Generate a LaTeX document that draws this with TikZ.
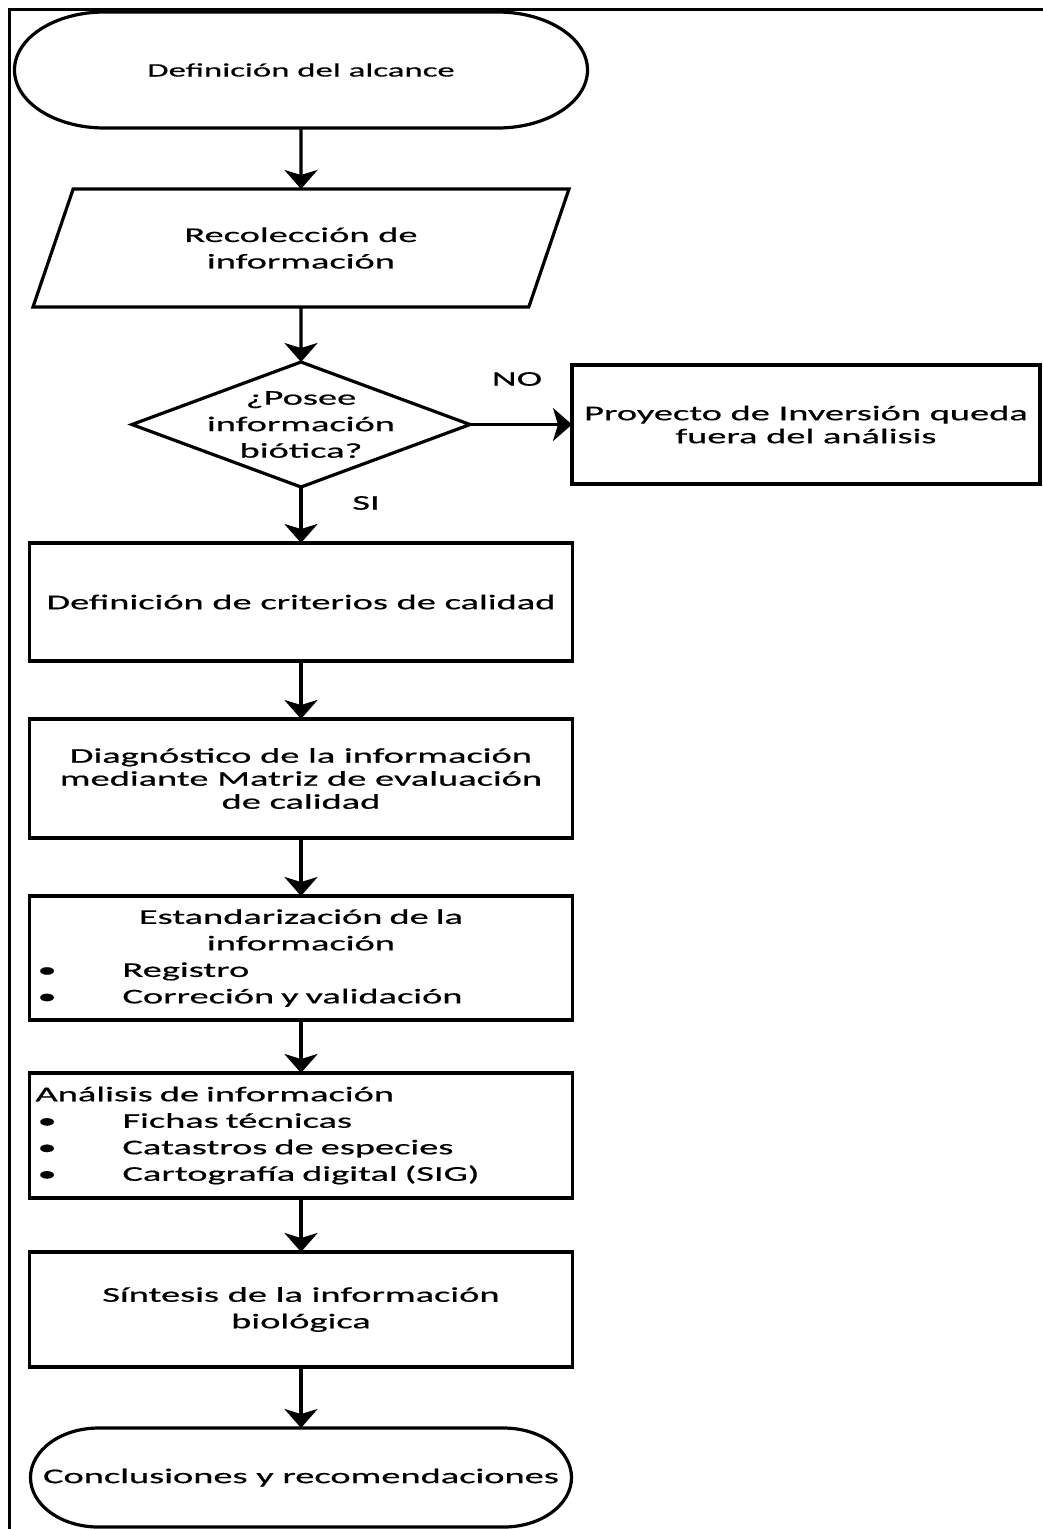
\documentclass[tikz,border=0pt]{standalone}
\usepackage{fontspec}
\setmainfont{Carlito}[FakeStretch=1.83, FakeBold=0.6]
\usetikzlibrary{arrows.meta, positioning, shapes.geometric}

% outline of a terminal node with flat ends
\newcommand{\terminalline}[3]{%
  \draw[line] ([xshift=#2]#1.north west) -- ([xshift=-#2]#1.north east)
    arc[start angle=90, end angle=-90, x radius=#2, y radius=#3]
    -- ([xshift=#2]#1.south west)
    arc[start angle=270, end angle=90, x radius=#2, y radius=#3] -- cycle;}
% one line in a box: bullet item, or plain text set to the left
\newcommand{\bitem}[1]{\makebox[531pt][l]{\hspace{2pt}\makebox[85pt][l]{•}#1}}
\newcommand{\lline}[1]{\makebox[531pt][l]{#1}}

\begin{document}
\begin{tikzpicture}[
    x=1pt, y=-1pt,
    every node/.style = {font=\fontsize{21}{26.5}\selectfont},
    line/.style     = {line width=3.2pt},
    box/.style      = {rectangle, draw, line width=3.2pt, align=center,
                       inner sep=6pt, outer sep=0pt},
    proc/.style     = {box, minimum width=543pt},
    terminal/.style = {rectangle, align=center, inner sep=0pt, outer sep=0pt},
    io/.style       = {trapezium, trapezium left angle=50, trapezium right angle=130,
                       trapezium stretches body, draw, line width=3.2pt, align=center,
                       minimum width=536pt, minimum height=118pt, outer sep=0pt},
    decision/.style = {diamond, draw, line width=3.2pt, minimum width=338pt,
                       minimum height=125pt, inner sep=0pt, outer sep=0pt},
    lbl/.style      = {inner sep=0pt, align=center},
    arr/.style      = {-{Stealth[length=19pt, width=33pt, inset=5pt]}, line width=3.2pt}
  ]
  \useasboundingbox (0,0) rectangle (1043,1529);

  % frame
  \draw[line width=3pt] (9,1529) -- (9,9) -- (1043,9);

  % nodes
  \node[terminal, minimum width=573pt, minimum height=116pt,
        font=\fontsize{19}{24}\selectfont] (start) at (301,70) {Definición del alcance};
  \terminalline{start}{90pt}{58pt}

  \node[io] (recol) [below=61pt of start] {Recolección de\\información};

  \node[decision] (question) [below=55pt of recol] {};
  \node[lbl] (qtext) at (question) {¿Posee\\información\\biótica?};

  \node[box, minimum width=468pt, minimum height=119pt,
        font=\fontsize{21}{23}\selectfont] (out) [right=102pt of question]
        {Proyecto de Inversión queda\\fuera del análisis};

  \node[lbl] (no) at (517,379) {NO};
  \node[lbl] (si) at (366,503) {SI};

  \node[proc, minimum height=118pt] (crit) [below=56pt of question]
        {Definición de criterios de calidad};
  \node[proc, minimum height=119pt, font=\fontsize{21}{23}\selectfont] (diag)
        [below=58pt of crit]
        {Diagnóstico de la información\\mediante Matriz de evaluación\\de calidad};
  \node[proc, minimum height=124pt, text width=531pt] (estand) [below=58pt of diag]
        {Estandarización de la\\información\\\bitem{Registro}\\\bitem{Correción y validación}};
  \node[proc, minimum height=125pt, text width=531pt] (anal) [below=53pt of estand]
        {\lline{Análisis de información}\\\bitem{Fichas técnicas}\\
         \bitem{Catastros de especies}\\\bitem{Cartografía digital (SIG)}};
  \node[proc, minimum height=115pt] (sint) [below=54pt of anal]
        {Síntesis de la información\\biológica};

  \node[terminal, minimum width=541pt, minimum height=99pt] (concl) [below=61pt of sint]
        {Conclusiones y recomendaciones};
  \terminalline{concl}{68pt}{49.5pt}

  % edges
  \draw[arr] (start) -- (recol);
  \draw[arr] (recol) -- (question);
  \draw[arr] (question) -- (out);
  \draw[arr] (question) -- (crit);
  \draw[arr] (crit) -- (diag);
  \draw[arr] (diag) -- (estand);
  \draw[arr] (estand) -- (anal);
  \draw[arr] (anal) -- (sint);
  \draw[arr] (sint) -- (concl);

\end{tikzpicture}
\end{document}
